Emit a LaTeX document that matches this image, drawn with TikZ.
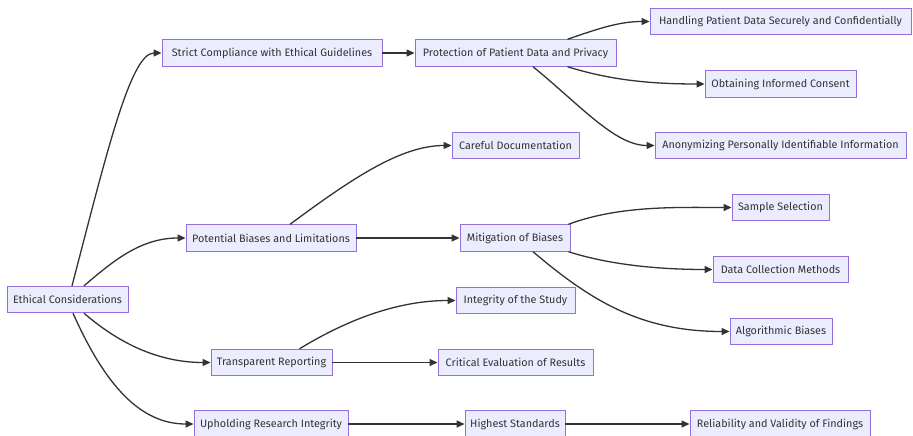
\documentclass[tikz,border=0pt]{standalone}
\usepackage{fontspec}
\setmainfont{Fira Sans}
\usetikzlibrary{arrows.meta,calc}
\definecolor{boxfill}{HTML}{ECECFF}
\definecolor{boxline}{HTML}{9370DB}
\definecolor{edgecol}{HTML}{333333}
\tikzset{
  box/.style={draw=boxline, fill=boxfill, line width=0.9pt, minimum height=26.5pt,
    inner xsep=4pt, font=\fontsize{10.8}{12}\selectfont, text=edgecol},
  link/.style={draw=edgecol, line width=1.3pt, -{Triangle[length=8pt,width=7pt]}}
}
\begin{document}
\begin{tikzpicture}[x=1pt,y=-1pt]
\useasboundingbox (0,0) rectangle (913,436);
\fill[white] (0,0) rectangle (913,436);

% root and first level
\node[box, minimum width=121] (eth) at (67.5,299.5) {Ethical Considerations};
\node[box, minimum width=220] (strict) at (272,53) {Strict Compliance with Ethical Guidelines};
\node[box, minimum width=170] (pot) at (271,238) {Potential Biases and Limitations};
\node[box, minimum width=121] (trans) at (271.5,362.5) {Transparent Reporting};
\node[box, minimum width=154] (uph) at (271,424) {Upholding Research Integrity};

% second level
\node[box, minimum width=201] (prot) at (515.5,53) {Protection of Patient Data and Privacy};
\node[box, minimum width=127] (care) at (515.5,145.5) {Careful Documentation};
\node[box, minimum width=110] (mit) at (515,238) {Mitigation of Biases};
\node[box, minimum width=119] (integ) at (515.5,300.5) {Integrity of the Study};
\node[box, minimum width=155] (crit) at (515.5,362.5) {Critical Evaluation of Results};
\node[box, minimum width=100] (high) at (515,424) {Highest Standards};

% third level
\node[box, minimum width=261] (hand) at (780.5,21.5) {Handling Patient Data Securely and Confidentially};
\node[box, minimum width=151] (obt) at (780.5,84) {Obtaining Informed Consent};
\node[box, minimum width=251] (anon) at (780.5,145.5) {Anonymizing Personally Identifiable Information};
\node[box, minimum width=97] (samp) at (780.5,207.5) {Sample Selection};
\node[box, minimum width=135] (dcm) at (780.5,269.5) {Data Collection Methods};
\node[box, minimum width=102] (alg) at (781,331.5) {Algorithmic Biases};
\node[box, minimum width=180] (rel) at (780,424) {Reliability and Validity of Findings};

% connectors from the root
\draw[link] ($(eth.north)+(4.5,0)$) .. controls (105,160) and (130,53) .. (strict.west);
\draw[link] ($(eth.north)+(16.5,0)$) .. controls (112,262) and (140,238) .. (pot.west);
\draw[link] ($(eth.south)+(16.5,0)$) .. controls (115,340) and (155,362.5) .. (trans.west);
\draw[link] ($(eth.south)+(5.5,0)$) .. controls (105,385) and (140,424) .. (uph.west);

% first branch
\draw[link] (strict.east) -- (prot.west);
\draw[link] ($(prot.north east)+(-49,0)$) .. controls (600,28) and (620,21.5) .. (hand.west);
\draw[link] ($(prot.south east)+(-49,0)$) .. controls (610,80) and (650,84) .. (obt.west);
\draw[link] ($(prot.south)+(17.5,0)$) .. controls (580,105) and (615,145.5) .. (anon.west);

% second branch
\draw[link] ($(pot.north)+(19,0)$) .. controls (350,180) and (400,145.5) .. (care.west);
\draw[link] (pot.east) -- (mit.west);
\draw[link] ($(mit.north east)+(-2,0)$) .. controls (620,205) and (680,207.5) .. (samp.west);
\draw[link] ($(mit.south east)+(-2,0)$) .. controls (610,265) and (660,269.5) .. (dcm.west);
\draw[link] ($(mit.south)+(18,0)$) .. controls (590,300) and (640,331.5) .. (alg.west);

% third branch
\draw[link] ($(trans.north)+(28,0)$) .. controls (350,318) and (400,300.5) .. (integ.west);
\draw[link] (trans.east) -- (crit.west);

% fourth branch
\draw[link] (uph.east) -- (high.west);
\draw[link] (high.east) -- (rel.west);
\end{tikzpicture}
\end{document}
